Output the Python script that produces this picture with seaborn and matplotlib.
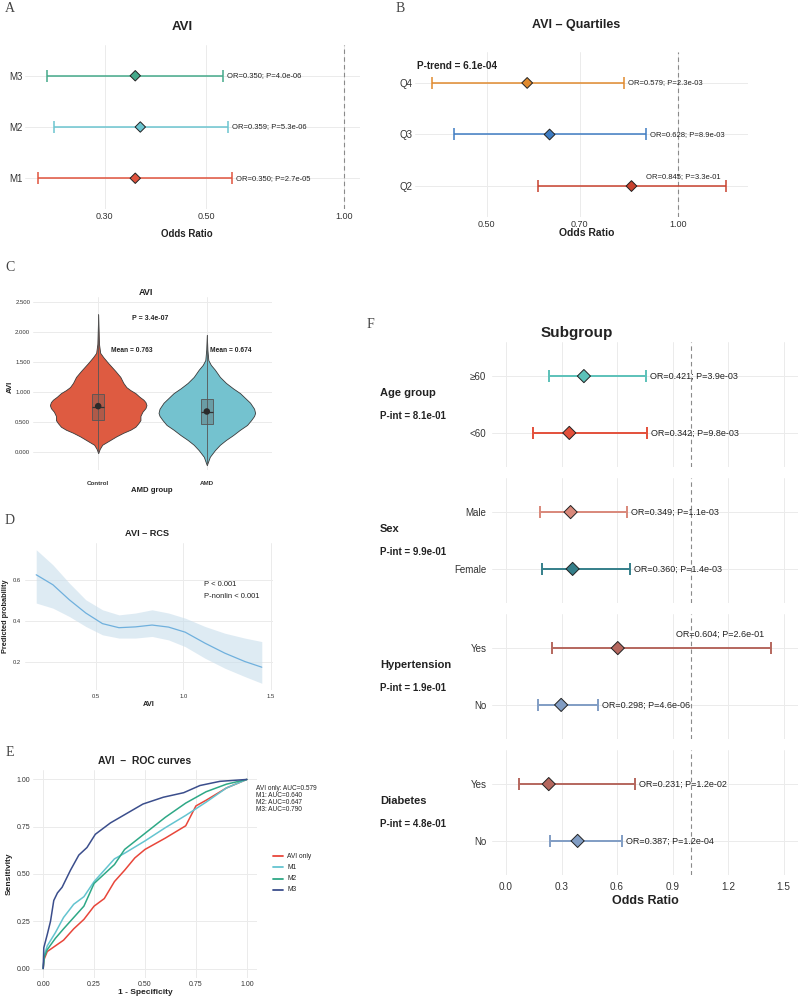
import numpy as np
import pandas as pd
import matplotlib
matplotlib.use("Agg")
import matplotlib.pyplot as plt
from matplotlib.lines import Line2D
from matplotlib.ticker import NullLocator
import seaborn as sns

sns.set_theme(style="whitegrid")
plt.rcParams['font.family'] = ['Liberation Sans', 'DejaVu Sans']
plt.rcParams['axes.unicode_minus'] = False

W, H = 799, 999
GRID = "#EBEBEB"
TXT = "#222222"

# ---------------- data ----------------
# Panel A
a_models = ["M1", "M2", "M3"]
a_or = [0.350, 0.359, 0.350]
a_lo = [0.215, 0.232, 0.224]
a_hi = [0.569, 0.558, 0.544]
a_p = ["2.7e-05", "5.3e-06", "4.0e-06"]
a_colors = ["#E0533D", "#6CC5D0", "#45A98A"]

# Panel B
b_q = ["Q2", "Q3", "Q4"]
b_or = [0.845, 0.628, 0.579]
b_lo = [0.602, 0.444, 0.410]
b_hi = [1.190, 0.890, 0.822]
b_p = ["3.3e-01", "8.9e-03", "2.3e-03"]
b_colors = ["#C8412E", "#3E7CC2", "#E08A2E"]
b_ptrend = "6.1e-04"

# Panel C (violin outline: AVI level, relative half-width)
c_groups = ["Control", "AMD"]
c_ctrl_y = [-0.02, 0.05, 0.12, 0.20, 0.26, 0.32, 0.37, 0.42, 0.48, 0.53, 0.60, 0.67, 0.73,
            0.78, 0.83, 0.87, 0.92, 0.98, 1.03, 1.08, 1.15, 1.25, 1.35, 1.48, 1.58, 1.65, 1.80, 2.29]
c_ctrl_w = [0, 1.5, 4, 12, 18, 25, 32, 37, 40, 42, 42, 44, 47,
            48, 47, 45, 41, 37, 32, 28, 25, 22, 17, 10, 5, 2, 0.8, 0]
c_amd_y = [-0.22, -0.15, -0.08, 0.03, 0.12, 0.20, 0.28, 0.37, 0.45, 0.53, 0.60, 0.65, 0.72,
           0.82, 0.90, 0.98, 1.06, 1.15, 1.25, 1.37, 1.45, 1.53, 1.70, 1.95]
c_amd_w = [0, 1.5, 3, 8, 13, 19, 26, 33, 40, 44, 47, 48, 47,
           43, 38, 33, 26, 19, 13, 8, 4, 1.5, 0.6, 0]
c_q1 = [0.53, 0.46]
c_med = [0.75, 0.67]
c_q3 = [0.97, 0.88]
c_mean = [0.763, 0.674]
c_pval = "3.4e-07"
c_colors = ["#DE5B41", "#74C2CF"]

# Panel D (RCS)
d_x = [0.160, 0.255, 0.349, 0.443, 0.538, 0.632, 0.726, 0.821, 0.915, 1.010, 1.123, 1.236, 1.350, 1.447]
d_y = [0.628, 0.579, 0.505, 0.440, 0.388, 0.368, 0.372, 0.381, 0.371, 0.346, 0.292, 0.243, 0.202, 0.174]
d_hi = [0.751, 0.677, 0.587, 0.505, 0.456, 0.431, 0.440, 0.456, 0.440, 0.415, 0.374, 0.341, 0.317, 0.300]
d_lo = [0.489, 0.464, 0.423, 0.374, 0.333, 0.317, 0.317, 0.325, 0.308, 0.275, 0.218, 0.169, 0.128, 0.095]

# Panel E (ROC)
e_models = ["AVI only", "M1", "M2", "M3"]
e_auc = [0.579, 0.640, 0.647, 0.790]
e_colors = ["#E8463A", "#64C4D0", "#2EA886", "#3B4E8C"]
e_fpr_avi = [0, 0.005, 0.02, 0.06, 0.10, 0.15, 0.20, 0.25, 0.30, 0.35, 0.40, 0.45, 0.50, 0.60, 0.70, 0.75, 0.80, 0.90, 1]
e_tpr_avi = [0, 0.05, 0.09, 0.12, 0.15, 0.21, 0.26, 0.33, 0.37, 0.46, 0.52, 0.585, 0.63, 0.69, 0.755, 0.86, 0.89, 0.955, 1]
e_fpr_m1 = [0, 0.005, 0.02, 0.06, 0.10, 0.15, 0.20, 0.25, 0.30, 0.35, 0.40, 0.50, 0.60, 0.70, 0.80, 0.90, 1]
e_tpr_m1 = [0, 0.07, 0.12, 0.19, 0.27, 0.34, 0.38, 0.46, 0.52, 0.58, 0.61, 0.675, 0.745, 0.81, 0.88, 0.955, 1]
e_fpr_m2 = [0, 0.005, 0.02, 0.06, 0.10, 0.15, 0.20, 0.25, 0.30, 0.35, 0.40, 0.50, 0.60, 0.70, 0.80, 0.90, 1]
e_tpr_m2 = [0, 0.06, 0.10, 0.16, 0.21, 0.27, 0.33, 0.45, 0.50, 0.55, 0.63, 0.715, 0.80, 0.875, 0.935, 0.975, 1]
e_fpr_m3 = [0, 0.003, 0.02, 0.036, 0.052, 0.07, 0.093, 0.134, 0.175, 0.215, 0.256, 0.33, 0.41, 0.49, 0.59, 0.69, 0.77, 0.868, 1]
e_tpr_m3 = [0, 0.11, 0.18, 0.25, 0.36, 0.40, 0.43, 0.52, 0.60, 0.64, 0.71, 0.77, 0.82, 0.87, 0.906, 0.93, 0.968, 0.99, 1]

# Panel F (subgroups)
f_groups = ["Age group", "Sex", "Hypertension", "Diabetes"]
f_pint = ["8.1e-01", "9.9e-01", "1.9e-01", "4.8e-01"]
f_levels = [["≥60", "<60"], ["Male", "Female"], ["Yes", "No"], ["Yes", "No"]]
f_or = [[0.421, 0.342], [0.349, 0.360], [0.604, 0.298], [0.231, 0.387]]
f_lo = [[0.232, 0.146], [0.184, 0.194], [0.249, 0.174], [0.070, 0.238]]
f_hi = [[0.757, 0.762], [0.654, 0.670], [1.432, 0.497], [0.697, 0.627]]
f_p = [["3.9e-03", "9.8e-03"], ["1.1e-03", "1.4e-03"], ["2.6e-01", "4.6e-06"], ["1.2e-02", "1.2e-04"]]
f_colors = [["#5CC1B9", "#E3503B"], ["#D9887A", "#357F8A"], ["#B5675E", "#819DC4"], ["#B5675E", "#819DC4"]]
f_ticks = [0.0, 0.3, 0.6, 0.9, 1.2, 1.5]

# ---------------- figure ----------------
fig = plt.figure(figsize=(W / 100, H / 100), dpi=100)
fig.patch.set_facecolor("white")


def add_ax(l, t, r, b):
    ax = fig.add_axes([l / W, 1 - b / H, (r - l) / W, (b - t) / H])
    ax.set_facecolor("white")
    for s in ax.spines.values():
        s.set_visible(False)
    ax.grid(True, color=GRID, lw=0.7)
    ax.set_axisbelow(True)
    ax.tick_params(length=0, colors="#333333")
    return ax


def ftext(x, y, s, **kw):
    kw.setdefault("va", "center")
    kw.setdefault("ha", "center")
    kw.setdefault("color", TXT)
    fig.text(x / W, 1 - y / H, s, **kw)


def forest(ax, labels, ors, los, his, ps, colors, pos, fs, ms, lw, cap, above_off):
    df = pd.DataFrame({"label": labels, "or": ors, "lo": los, "hi": his, "pos": pos})
    ax.axvline(1.0, color="#8A8A8A", ls=(0, (4, 3)), lw=0.8, zorder=1)
    for i, r in df.iterrows():
        ax.errorbar(r["or"], r["pos"], xerr=[[r["or"] - r["lo"]], [r["hi"] - r["or"]]],
                    fmt="none", ecolor=colors[i], elinewidth=lw, capsize=cap, capthick=lw, zorder=2)
    sns.scatterplot(data=df, x="or", y="pos", hue="label", hue_order=labels, palette=colors,
                    marker="D", s=ms, edgecolor="#222222", linewidth=0.7, legend=False, ax=ax, zorder=3)
    for i, r in df.iterrows():
        txt = f"OR={r['or']:.3f}; P={ps[i]}"
        if r["hi"] > 1:
            ax.annotate(txt, (r["hi"], r["pos"]), xytext=above_off, textcoords="offset points",
                        ha="right", va="center", fontsize=fs, color=TXT)
        else:
            ax.annotate(txt, (r["hi"], r["pos"]), xytext=(3, 0), textcoords="offset points",
                        ha="left", va="center", fontsize=fs, color=TXT)
    ax.set_xlabel("")
    ax.set_ylabel("")


# ---- panel letters ----
for lab, x, y in [("A", 10, 9), ("B", 400, 9), ("C", 10, 267), ("D", 10, 520), ("E", 10, 752), ("F", 370, 325)]:
    ftext(x, y, lab, fontsize=10, family=["Liberation Serif", "DejaVu Serif"], color="#444444")

# ---- Panel A ----
axA = add_ax(25, 45, 360, 209)
forest(axA, a_models, a_or, a_lo, a_hi, a_p, a_colors, [1, 2, 3], 5.5, 28, 1.1, 4.2, (-3, 7))
axA.set_xscale("log")
axA.set_xlim(0.201, 1.084)
axA.set_ylim(0.4, 3.6)
axA.set_xticks([0.3, 0.5, 1.0])
axA.set_xticklabels(["0.30", "0.50", "1.00"])
axA.xaxis.set_minor_locator(NullLocator())
axA.set_yticks([1, 2, 3])
axA.set_yticklabels(a_models)
axA.tick_params(axis="x", labelsize=6.5, pad=2)
axA.tick_params(axis="y", labelsize=7, pad=2)
ftext(182, 27, "AVI", fontsize=9.5, fontweight="bold")
ftext(187, 234, "Odds Ratio", fontsize=7, fontweight="bold")

# ---- Panel B ----
axB = add_ax(415, 52, 748, 217)
forest(axB, b_q, b_or, b_lo, b_hi, b_p, b_colors, [1, 2, 3], 5.5, 30, 1.1, 4.2, (-3.5, 7))
axB.set_xscale("log")
axB.set_xlim(0.3856, 1.289)
axB.set_ylim(0.4, 3.6)
axB.set_xticks([0.5, 0.7, 1.0])
axB.set_xticklabels(["0.50", "0.70", "1.00"])
axB.xaxis.set_minor_locator(NullLocator())
axB.set_yticks([1, 2, 3])
axB.set_yticklabels(b_q)
axB.tick_params(axis="x", labelsize=6.5, pad=2)
axB.tick_params(axis="y", labelsize=7, pad=2)
ftext(576, 25, "AVI – Quartiles", fontsize=9, fontweight="bold")
ftext(587, 233, "Odds Ratio", fontsize=7.5, fontweight="bold")
ftext(417, 66, f"P-trend = {b_ptrend}", fontsize=7.2, fontweight="bold", ha="left")

# ---- Panel C ----
axC = add_ax(33, 297, 272, 470)
px_per_unit = 108.0
for i, (ys, ws) in enumerate([(c_ctrl_y, c_ctrl_w), (c_amd_y, c_amd_w)]):
    ys = np.array(ys)
    hw = np.array(ws) / px_per_unit
    axC.fill_betweenx(ys, i - hw, i + hw, facecolor=c_colors[i], edgecolor="#3A3A3A", lw=0.6, zorder=2)
    axC.plot([i, i], [ys.min(), ys.max()], color="#555555", lw=0.6, zorder=3)
stats = [dict(med=c_med[i], q1=c_q1[i], q3=c_q3[i], whislo=c_q1[i], whishi=c_q3[i], fliers=[])
         for i in range(2)]
axC.bxp(stats, positions=[0, 1], widths=0.11, showfliers=False, patch_artist=True,
        boxprops=dict(facecolor=(0.35, 0.35, 0.35, 0.35), edgecolor="#555555", lw=0.6),
        medianprops=dict(color="#333333", lw=0.9), whiskerprops=dict(lw=0), capprops=dict(lw=0),
        manage_ticks=False, zorder=4)
sns.scatterplot(x=[0, 1], y=c_mean, color="#2A2A2A", s=22, edgecolor="none", ax=axC, zorder=5, legend=False)
axC.set_xlim(-0.6, 1.6)
axC.set_ylim(-0.3, 2.58)
axC.set_xticks([0, 1])
axC.set_xticklabels(c_groups)
axC.set_yticks([0, 0.5, 1.0, 1.5, 2.0, 2.5])
axC.set_yticklabels([f"{v:.3f}" for v in [0, 0.5, 1.0, 1.5, 2.0, 2.5]])
axC.tick_params(axis="x", labelsize=4.5, pad=8)
axC.tick_params(axis="y", labelsize=4.3, pad=2)
for lbl in axC.get_xticklabels():
    lbl.set_fontweight("bold")
ftext(146, 292, "AVI", fontsize=6.5, fontweight="bold")
ftext(150, 319, f"P = {c_pval}", fontsize=5, fontweight="bold")
ftext(132, 351, f"Mean = {c_mean[0]:.3f}", fontsize=4.8, fontweight="bold")
ftext(231, 351, f"Mean = {c_mean[1]:.3f}", fontsize=4.8, fontweight="bold")
ftext(152, 491, "AMD group", fontsize=5.6, fontweight="bold")
ftext(10, 387, "AVI", fontsize=5.6, fontweight="bold", rotation=90)

# ---- Panel D ----
axD = add_ax(25, 543, 273, 690)
axD.fill_between(d_x, d_lo, d_hi, color="#C9DEEC", alpha=0.6, lw=0, zorder=2)
sns.lineplot(x=d_x, y=d_y, color="#6FB0DD", lw=0.9, ax=axD, zorder=3)
axD.set_xlim(0.096, 1.511)
axD.set_ylim(0.062, 0.784)
axD.set_xticks([0.5, 1.0, 1.5])
axD.set_xticklabels(["0.5", "1.0", "1.5"])
axD.set_yticks([0.2, 0.4, 0.6])
axD.set_yticklabels(["0.2", "0.4", "0.6"])
axD.tick_params(axis="both", labelsize=4.2, pad=3)
ftext(147, 533, "AVI – RCS", fontsize=6.6, fontweight="bold")
ftext(204, 584, "P < 0.001", fontsize=5.5, ha="left")
ftext(204, 596, "P-nonlin < 0.001", fontsize=5.5, ha="left")
ftext(149, 705, "AVI", fontsize=5.3, fontweight="bold")
ftext(6, 616, "Predicted probability", fontsize=5.3, fontweight="bold", rotation=90)

# ---- Panel E ----
axE = add_ax(33, 770, 257, 978)
curves = [(e_fpr_avi, e_tpr_avi), (e_fpr_m1, e_tpr_m1), (e_fpr_m2, e_tpr_m2), (e_fpr_m3, e_tpr_m3)]
for (fx, ty), col in zip(curves, e_colors):
    sns.lineplot(x=fx, y=ty, color=col, lw=1.1, ax=axE, sort=False, estimator=None)
axE.set_xlim(-0.05, 1.05)
axE.set_ylim(-0.05, 1.05)
ticks = [0, 0.25, 0.5, 0.75, 1.0]
axE.set_xticks(ticks)
axE.set_xticklabels([f"{t:.2f}" for t in ticks])
axE.set_yticks(ticks)
axE.set_yticklabels([f"{t:.2f}" for t in ticks])
axE.tick_params(axis="both", labelsize=5, pad=2)
ftext(145, 761, "AVI  –  ROC curves", fontsize=7.5, fontweight="bold")
ftext(145, 992, "1 - Specificity", fontsize=6, fontweight="bold")
ftext(9, 874, "Sensitivity", fontsize=6, fontweight="bold", rotation=90)
for k, (m, a) in enumerate(zip(e_models, e_auc)):
    ftext(256, 788 + k * 7.1, f"{m}: AUC={a:.3f}", fontsize=4.7, ha="left")
for k, (m, col) in enumerate(zip(e_models, e_colors)):
    yy = 1 - (856 + k * 11.3) / H
    fig.add_artist(Line2D([273 / W, 283 / W], [yy, yy], color=col, lw=1.3))
    fig.text(287 / W, yy, m, fontsize=4.8, va="center", ha="left", color=TXT)

# ---- Panel F ----
f_boxes = [(342, 467), (478, 603), (614, 739), (750, 875)]
for g, (t, b) in enumerate(f_boxes):
    ax = add_ax(492, t, 798, b)
    forest(ax, f_levels[g], f_or[g], f_lo[g], f_hi[g], f_p[g], f_colors[g], [2, 1], 6.5, 45, 1.4, 4.5, (-5, 10))
    ax.set_xlim(-0.0757, 1.578)
    ax.set_ylim(0.4, 2.6)
    ax.set_yticks([2, 1])
    ax.set_yticklabels(f_levels[g])
    ax.set_xticks(f_ticks)
    ax.tick_params(axis="y", labelsize=7, pad=4)
    if g < 3:
        ax.set_xticklabels([])
    else:
        ax.set_xticklabels([f"{v:.1f}" for v in f_ticks])
        ax.tick_params(axis="x", labelsize=7.2, pad=5)
    ax.annotate(f_groups[g], xy=(380 / W, 1.5), xycoords=("figure fraction", "data"),
                xytext=(0, 8), textcoords="offset points", ha="left", va="center",
                fontsize=8, fontweight="bold", color=TXT)
    ax.annotate(f"P-int = {f_pint[g]}", xy=(380 / W, 1.5), xycoords=("figure fraction", "data"),
                xytext=(0, -8.5), textcoords="offset points", ha="left", va="center",
                fontsize=7, fontweight="bold", color=TXT)
ftext(577, 333, "Subgroup", fontsize=11, fontweight="bold")
ftext(645, 901, "Odds Ratio", fontsize=9, fontweight="bold")

fig.savefig("out.png", dpi=100, facecolor="white")
